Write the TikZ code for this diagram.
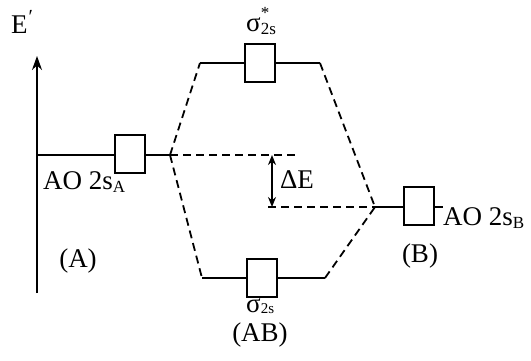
\documentclass[tikz,border=0pt]{standalone}
\usepackage{fontspec}
\setmainfont{Liberation Serif}
\usetikzlibrary{arrows.meta}
\tikzset{
  orb/.style={draw, line width=1.8pt, minimum width=30pt, minimum height=38pt, inner sep=0pt},
  lvl/.style={line width=1.8pt},
  dsh/.style={line width=1.8pt, dash pattern=on 8pt off 5pt},
  lbl/.style={font=\fontsize{27}{30}\selectfont, inner sep=0pt},
}
\newcommand{\subtxt}[1]{\raisebox{-0.3ex}{\fontsize{17}{17}\selectfont #1}}
\begin{document}
\begin{tikzpicture}[x=1pt,y=-1pt]
\useasboundingbox (0,0) rectangle (531,360);
% axis
\coordinate (ax0) at (37,293);
\coordinate (ax1) at (37,56);
\draw[lvl,-{Stealth[length=14pt,width=10pt]}] (ax0) -- (ax1);
\node[lbl, anchor=base west] (E) at (11,33) {E\raisebox{0.75ex}{\fontsize{20}{20}\selectfont\kern1pt ′}};
% boxes
\node[orb] (bA) at (130,154) {};
\node[orb] (bS) at (260,63) {};
\node[orb] (bP) at (262,278) {};
\node[orb] (bB) at (419,206) {};
% coordinates
\coordinate (aL) at (37,155);
\coordinate (aJ) at (170,155);
\coordinate (sL) at (200,63);
\coordinate (sR) at (320,63);
\coordinate (pL) at (202,278);
\coordinate (pR) at (325,278);
\coordinate (bJ) at (375,207);
\coordinate (bR) at (443,207);
\coordinate (dT) at (296,155);
\coordinate (dB) at (268,207);
\coordinate (at) at (272,155);
\coordinate (ab) at (272,207);
% solid levels
\draw[lvl] (aL) -- (bA.west |- aL);
\draw[lvl] (bA.east |- aJ) -- (aJ);
\draw[lvl] (sL) -- (bS.west |- sL);
\draw[lvl] (bS.east |- sR) -- (sR);
\draw[lvl] (pL) -- (bP.west |- pL);
\draw[lvl] (bP.east |- pR) -- (pR);
\draw[lvl] (bJ) -- (bB.west |- bJ);
\draw[lvl] (bB.east |- bR) -- (bR);
% dashed correlation lines
\draw[dsh] (aJ) -- (sL);
\draw[dsh] (aJ) -- (pL);
\draw[dsh] (sR) -- (bJ);
\draw[dsh] (pR) -- (bJ);
\draw[dsh] (aJ) -- (dT);
\draw[dsh] (dB) -- (bJ);
% Delta E
\draw[lvl, {Stealth[length=10pt,width=8pt]}-{Stealth[length=10pt,width=8pt]}] (at) -- (ab);
\node[lbl] (dE) at (297,180) {ΔE};
% labels
\node[lbl, anchor=base west] (lA) at (43,189) {AO 2s\subtxt{A}};
\node[lbl, anchor=base west] (lB) at (443,225) {AO 2s\subtxt{B}};
\node[lbl] (pA) at (78,261) {(A)};
\node[lbl] (pB) at (420,256) {(B)};
\node[lbl] (pAB) at (260,335) {(AB)};
\node[lbl, anchor=base west] (sS) at (246,31) {σ\rlap{\raisebox{1.0ex}{\fontsize{17}{17}\selectfont *}}\subtxt{2s}};
\node[lbl, anchor=base west] (sP) at (246,312) {σ\raisebox{-0.15ex}{\fontsize{15}{15}\selectfont 2s}};
\end{tikzpicture}
\end{document}
